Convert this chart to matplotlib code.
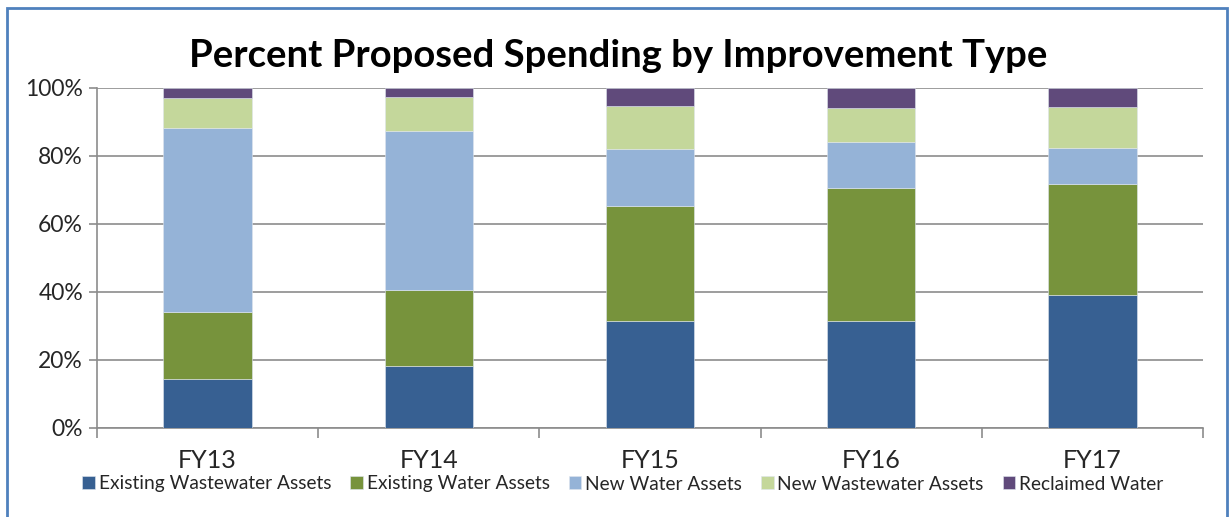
import numpy as np
import matplotlib.pyplot as plt
from matplotlib.patches import Rectangle

# ------------------------------------------------------------------
# Data (percent of proposed spending)
# ------------------------------------------------------------------
years = ["FY13", "FY14", "FY15", "FY16", "FY17"]
existing_wastewater = [14.4, 18.2, 31.5, 31.5, 39.0]
existing_water = [19.6, 22.3, 33.9, 39.2, 32.8]
new_water = [54.3, 46.8, 16.6, 13.5, 10.6]
new_wastewater = [8.8, 10.2, 12.8, 9.8, 12.0]
reclaimed_water = [2.9, 2.5, 5.2, 6.0, 5.6]

series_names = ["Existing Wastewater Assets", "Existing Water Assets",
                "New Water Assets", "New Wastewater Assets", "Reclaimed Water"]
series_colors = ["#376092", "#77933C", "#95B3D7", "#C4D79B", "#604A7B"]

plt.rcParams['font.family'] = ['Lato', 'DejaVu Sans']

fig = plt.figure(figsize=(12.31, 5.17), dpi=100)
ax = fig.add_axes([97 / 1231, 1 - 428 / 517, (1203 - 97) / 1231, (428 - 88) / 517])

x = np.arange(len(years))
bottom = np.zeros(len(years))
for name, vals, col in zip(series_names,
                           [existing_wastewater, existing_water, new_water,
                            new_wastewater, reclaimed_water],
                           series_colors):
    vals = np.array(vals)
    ax.bar(x, vals, bottom=bottom, width=0.4, color=col, label=name,
           edgecolor="#dfe6ee", linewidth=0.4, zorder=3)
    bottom += vals

ax.set_xlim(-0.5, len(years) - 0.5)
ax.set_ylim(0, 100)
ax.set_yticks(np.arange(0, 101, 20))
ax.set_yticklabels([f"{v}%" for v in range(0, 101, 20)], fontsize=16.5, color="#262626")
ax.yaxis.grid(True, color="#8c8c8c", linewidth=1.2, zorder=0)

ax.set_xticks(x)
ax.set_xticklabels(years, fontsize=18, color="#262626")
ax.set_xticks(np.arange(-0.5, len(years)), minor=True)
ax.tick_params(axis="x", which="major", length=0, pad=15)
ax.tick_params(axis="x", which="minor", length=7, color="#8c8c8c", width=1.2)
ax.tick_params(axis="y", length=6, color="#8c8c8c", width=1.2, pad=4)

for side in ["top", "right"]:
    ax.spines[side].set_visible(False)
for side in ["left", "bottom"]:
    ax.spines[side].set_color("#8c8c8c")
    ax.spines[side].set_linewidth(1.2)

fig.text(0.502, 1 - 56 / 517, "Percent Proposed Spending by Improvement Type",
         ha="center", va="center", fontsize=27.5, fontweight="bold")

fig.legend(loc="center", bbox_to_anchor=(0.506, 1 - 484 / 517), ncol=5,
           frameon=False, fontsize=13.8, handlelength=0.65, handleheight=0.65,
           handletextpad=0.2, columnspacing=1.0, labelcolor="#262626")

# chart border
fig.patches.append(Rectangle((7 / 1231, -0.05), (1227 - 7) / 1231, 1.05 - 8 / 517,
                             transform=fig.transFigure, fill=False,
                             edgecolor="#4F81BD", linewidth=2, clip_on=False))

fig.savefig("out.png", dpi=100)
